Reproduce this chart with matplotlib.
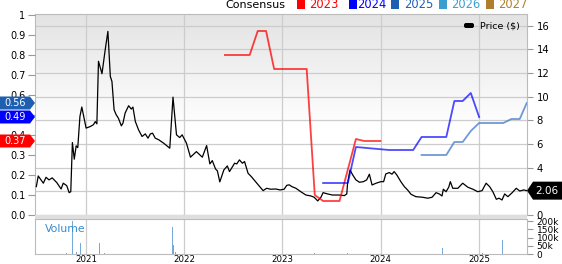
import numpy as np
import pandas as pd
import matplotlib
matplotlib.use("Agg")
import matplotlib.pyplot as plt
import matplotlib.dates as mdates
from matplotlib.colors import LinearSegmentedColormap
from matplotlib.patches import Polygon, Rectangle, FancyBboxPatch
from matplotlib.transforms import IdentityTransform

# price ($), right axis
price_dates = [
    "2020-06-30", "2020-07-07", "2020-07-26", "2020-08-05", "2020-08-16", "2020-08-28",
    "2020-09-14", "2020-09-30", "2020-10-08", "2020-10-21", "2020-10-30", "2020-11-05",
    "2020-11-11", "2020-11-18", "2020-11-25", "2020-12-01", "2020-12-09", "2020-12-16",
    "2021-01-01", "2021-01-16", "2021-01-28", "2021-02-04", "2021-02-10", "2021-02-16",
    "2021-03-01", "2021-03-13", "2021-03-23", "2021-04-01", "2021-04-07", "2021-04-15",
    "2021-04-23", "2021-05-01", "2021-05-12", "2021-05-18", "2021-05-26", "2021-06-08",
    "2021-06-18", "2021-06-24", "2021-07-03", "2021-07-15", "2021-07-28", "2021-08-09",
    "2021-08-19", "2021-08-28", "2021-09-05", "2021-09-15", "2021-09-28", "2021-10-16",
    "2021-10-23", "2021-11-08", "2021-11-20", "2021-12-03", "2021-12-15", "2021-12-24",
    "2022-01-09", "2022-01-24", "2022-02-15", "2022-03-09", "2022-03-25", "2022-04-06",
    "2022-04-15", "2022-04-27", "2022-05-04", "2022-05-13", "2022-05-28", "2022-06-10",
    "2022-06-18", "2022-07-07", "2022-07-15", "2022-07-25", "2022-08-05", "2022-08-13",
    "2022-08-26", "2022-09-07", "2022-09-23", "2022-10-06", "2022-10-21", "2022-11-03",
    "2022-11-18", "2022-12-07", "2022-12-23", "2023-01-07", "2023-01-17", "2023-01-26",
    "2023-02-05", "2023-02-20", "2023-03-10", "2023-03-29", "2023-04-17", "2023-04-29",
    "2023-05-12", "2023-05-24", "2023-06-01", "2023-06-18", "2023-07-06", "2023-07-31",
    "2023-08-19", "2023-08-28", "2023-08-31", "2023-09-09", "2023-09-19", "2023-10-01",
    "2023-10-14", "2023-10-29", "2023-11-10", "2023-11-20", "2023-11-30", "2023-12-15",
    "2024-01-02", "2024-01-12", "2024-01-20", "2024-02-02", "2024-02-12", "2024-02-20",
    "2024-03-01", "2024-03-16", "2024-03-29", "2024-04-10", "2024-04-23", "2024-05-11",
    "2024-06-05", "2024-06-24", "2024-07-10", "2024-07-25", "2024-08-06", "2024-08-16",
    "2024-08-21", "2024-08-31", "2024-09-10", "2024-09-16", "2024-09-25", "2024-10-14",
    "2024-11-01", "2024-11-20", "2024-12-09", "2024-12-27", "2025-01-12", "2025-01-27",
    "2025-02-09", "2025-02-21", "2025-03-06", "2025-03-16", "2025-03-27", "2025-04-06",
    "2025-04-18", "2025-05-04", "2025-05-19", "2025-06-01", "2025-06-16", "2025-06-27",
]
price_values = [
    2.40, 3.30, 2.69, 3.19, 2.97, 3.14,
    2.74, 2.20, 2.69, 2.48, 1.89, 1.97,
    6.13, 4.72, 5.85, 5.70, 8.33, 9.13,
    7.35, 7.48, 7.63, 7.90, 7.71, 13.00,
    11.95, 13.98, 15.53, 11.72, 11.30, 8.90,
    8.47, 8.19, 7.54, 7.77, 8.62, 9.24,
    8.96, 9.13, 7.91, 7.20, 6.64, 6.86,
    6.50, 6.86, 6.92, 6.50, 6.36, 6.08,
    5.95, 5.65, 9.97, 6.78, 6.55, 6.78,
    6.08, 4.89, 5.36, 4.89, 5.87, 4.32,
    4.60, 3.90, 3.73, 2.80, 3.81, 4.15,
    3.67, 4.38, 4.32, 4.66, 4.38, 4.52,
    3.53, 3.25, 2.82, 2.46, 2.06, 2.26,
    2.18, 2.20, 2.12, 2.18, 2.51, 2.55,
    2.40, 2.26, 1.97, 1.69, 1.61, 1.50,
    1.19, 1.50, 1.89, 1.78, 1.69, 1.69,
    1.64, 1.78, 2.69, 3.81, 3.39, 2.97,
    2.77, 2.82, 2.97, 3.45, 2.54, 2.69,
    2.82, 2.82, 3.47, 3.59, 3.45, 3.67,
    3.39, 2.82, 2.40, 2.12, 1.75, 1.55,
    1.50, 1.42, 1.50, 1.89, 1.78, 1.61,
    2.18, 1.97, 2.35, 2.82, 2.26, 2.26,
    2.69, 2.35, 2.18, 1.97, 2.06, 2.69,
    2.40, 1.97, 1.33, 1.42, 1.27, 1.78,
    1.55, 1.89, 2.26, 2.03, 2.12, 2.06,
]

# consensus estimates, left axis
c2023_dates = ["2022-06-01", "2022-09-01", "2022-10-01", "2022-11-01", "2022-12-01", "2023-04-01",
               "2023-05-01", "2023-06-01", "2023-08-01", "2023-10-01", "2023-11-01", "2023-12-31"]
c2023_values = [0.80, 0.80, 0.92, 0.92, 0.73, 0.73, 0.10, 0.07, 0.07, 0.38, 0.37, 0.37]

c2024_dates = ["2023-06-01", "2023-09-01", "2023-10-01", "2024-02-01", "2024-05-01", "2024-06-01",
               "2024-09-01", "2024-10-01", "2024-11-01", "2024-12-01", "2025-01-01"]
c2024_values = [0.16, 0.16, 0.34, 0.325, 0.325, 0.39, 0.39, 0.57, 0.57, 0.61, 0.49]

c2025_dates = ["2024-06-01", "2024-09-01", "2024-10-01", "2024-11-01", "2024-12-01", "2025-01-01",
               "2025-04-01", "2025-05-01", "2025-06-01", "2025-06-27"]
c2025_values = [0.30, 0.30, 0.365, 0.365, 0.42, 0.46, 0.46, 0.48, 0.48, 0.56]

legend_years = ["2023", "2024", "2025", "2026", "2027"]
legend_colors = ["#ff0000", "#0000ff", "#1f5fb0", "#3a9fd0", "#b07d2e"]

# volume
vol_dates = ["2020-08-20", "2020-09-15", "2020-10-21", "2020-11-13", "2020-11-27", "2020-12-10",
             "2021-01-20", "2021-02-19", "2021-03-10", "2021-06-01", "2021-08-10", "2021-11-19",
             "2021-11-23", "2021-11-28", "2022-03-01", "2022-08-01", "2023-05-01", "2023-09-01",
             "2023-12-01", "2024-03-01", "2024-08-18", "2024-10-01", "2025-01-15", "2025-03-29",
             "2025-05-20"]
vol_values = [3000, 2000, 5000, 200000, 12000, 70000,
              3000, 65000, 4000, 2000, 3000, 163000,
              53000, 10000, 2000, 2000, 4000, 4000,
              2000, 2000, 35000, 3000, 4000, 88000,
              3000]

W, H = 562, 264
x0 = pd.Timestamp("2020-06-25")
x1 = pd.Timestamp("2025-06-28")
grid_col = "#cccccc"

fig = plt.figure(figsize=(W / 100, H / 100), dpi=100)
ax = fig.add_axes([35 / W, 1 - 215 / H, 492 / W, 201 / H])
vax = fig.add_axes([35 / W, 1 - 254 / H, 492 / W, 35 / H])
cax = ax.twinx()

# background gradient in price panel
grad = np.clip(np.linspace(0, 1.8, 256), 0, 1).reshape(-1, 1)
cmap = LinearSegmentedColormap.from_list("bg", ["#e3e3e3", "#ffffff"])
ax.imshow(grad, extent=[0, 1, 0, 1], transform=ax.transAxes, cmap=cmap,
          aspect="auto", zorder=0, origin="upper")

# price on main axes (right side ticks)
ax.plot(pd.to_datetime(price_dates), price_values, color="black", lw=0.9, zorder=3)
ax.set_xlim(x0, x1)
ax.set_ylim(0, 17)
ax.set_yticks(range(0, 17, 2))
ax.yaxis.tick_right()
ax.yaxis.set_label_position("right")
ax.tick_params(axis="y", direction="out", length=4, color="#999999", labelsize=7.2, pad=3)
ax.xaxis.set_major_locator(mdates.YearLocator())
ax.tick_params(axis="x", length=0, labelbottom=False)
ax.grid(True, color=grid_col, lw=0.9)
ax.set_axisbelow(True)
for s in ax.spines.values():
    s.set_color("#bbbbbb")

# consensus on twin axes (left side ticks)
cax.yaxis.tick_left()
cax.yaxis.set_label_position("left")
cax.set_ylim(0, 1.005)
cax.set_yticks(np.arange(0, 1.01, 0.1))
cax.set_yticklabels([f"{v:.1f}" for v in np.arange(0, 0.91, 0.1)] + ["1"])
cax.tick_params(axis="y", direction="out", length=5, color="#999999", labelsize=7, pad=2)
for s in cax.spines.values():
    s.set_visible(False)
cax.plot(pd.to_datetime(c2023_dates), c2023_values, color=legend_colors[0], lw=1.3, alpha=0.75)
cax.plot(pd.to_datetime(c2024_dates), c2024_values, color=legend_colors[1], lw=1.3, alpha=0.7)
cax.plot(pd.to_datetime(c2025_dates), c2025_values, color="#3f78c8", lw=1.3, alpha=0.75)
cax.set_xlim(x0, x1)

# volume panel
vax.bar(pd.to_datetime(vol_dates), vol_values, width=4, color="#5b9bd5", alpha=0.85, lw=0)
vax.set_xlim(x0, x1)
vax.set_ylim(0, 214000)
vax.yaxis.tick_right()
vax.set_yticks([0, 50000, 100000, 150000, 200000])
vax.set_yticklabels(["0", "50k", "100k", "150k", "200k"])
vax.tick_params(axis="y", direction="out", length=4, color="#999999", labelsize=6.5, pad=3)
vax.xaxis.set_major_locator(mdates.YearLocator())
vax.xaxis.set_major_formatter(mdates.DateFormatter("%Y"))
vax.tick_params(axis="x", length=0, labelsize=6.2, pad=1)
vax.grid(True, axis="x", color=grid_col, lw=0.9)
vax.set_axisbelow(True)
for s in vax.spines.values():
    s.set_color("#bbbbbb")
vax.text(0.02, 0.7, "Volume", transform=vax.transAxes, color="#3a8ccc",
         fontsize=7.8, va="center")

# gray band between panels
fig.add_artist(Rectangle((35 / W, 1 - 219 / H), 492 / W, 4 / H, transform=fig.transFigure,
                         facecolor="#dedede", edgecolor="none"))

# top legend
fig.text(225 / W, 1 - 5 / H, "Consensus", fontsize=8, va="center", ha="left")
sq_x = [297, 349, 391, 439, 486]
txt_x = [309, 357, 404, 451, 498]
for yr, col, sx, tx in zip(legend_years, legend_colors, sq_x, txt_x):
    fig.add_artist(Rectangle((sx / W, 1 - 9 / H), 8 / W, 9 / H, transform=fig.transFigure,
                             facecolor=col, edgecolor="none"))
    fig.text(tx / W, 1 - 5 / H, yr, fontsize=8.3, color=col, va="center", ha="left")

# price legend inside panel
fig.add_artist(FancyBboxPatch((464, H - 28), 10, 5, boxstyle="round,pad=0,rounding_size=2",
                              transform=IdentityTransform(), facecolor="black", edgecolor="none"))
fig.text(480 / W, 1 - 26 / H, "Price ($)", fontsize=6.8, va="center", ha="left")

# left value tags
tags = [(0.56, "0.56", legend_colors[2]), (0.49, "0.49", legend_colors[1]), (0.37, "0.37", legend_colors[0])]
for val, lab, col in tags:
    yc = cax.transData.transform((mdates.date2num(x0), val))[1]
    h = 6.5
    pts = [(0, yc - h), (30, yc - h), (35, yc), (30, yc + h), (0, yc + h)]
    fig.add_artist(Polygon(pts, closed=True, transform=IdentityTransform(),
                           facecolor=col, edgecolor="none", zorder=5))
    fig.text(15 / W, yc / H, lab, color="white", fontsize=7, ha="center", va="center", zorder=6)

# right price tag
last_price = price_values[-1]
yc = ax.transData.transform((mdates.date2num(x1), last_price))[1]
h = 9
pts = [(527, yc), (533, yc - h), (562, yc - h), (562, yc + h), (533, yc + h)]
fig.add_artist(Polygon(pts, closed=True, transform=IdentityTransform(),
                       facecolor="black", edgecolor="none", zorder=5))
fig.text(547 / W, yc / H, f"{last_price:.2f}", color="white", fontsize=7.5,
         ha="center", va="center", zorder=6)

fig.savefig("out.png", dpi=100)
